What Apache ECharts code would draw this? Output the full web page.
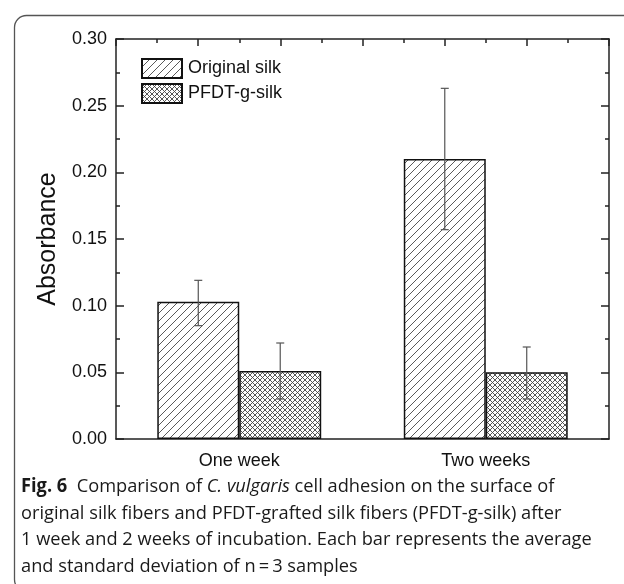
<!DOCTYPE html>
<html>
<head>
<meta charset="utf-8">
<script src="https://cdn.jsdelivr.net/npm/echarts@6/dist/echarts.min.js"></script>
<style>
html,body{margin:0;padding:0;background:#fff;}
#chart{width:624px;height:584px;}
</style>
</head>
<body>
<div id="chart"></div>
<script>
// ---- data ----
var categories = ['One week', 'Two weeks'];
var seriesNames = ['Original silk', 'PFDT-g-silk'];
var originalMean = [0.103, 0.210];
var originalLow = [0.085, 0.157];
var originalHigh = [0.119, 0.263];
var pfdtMean = [0.051, 0.050];
var pfdtLow = [0.030, 0.030];
var pfdtHigh = [0.072, 0.069];
var yTicks = [0, 0.05, 0.10, 0.15, 0.20, 0.25, 0.30];
var captionLines = [
  '{b|Fig. 6}  Comparison of {i|C. vulgaris} cell adhesion on the surface of',
  'original silk fibers and PFDT-grafted silk fibers (PFDT-g-silk) after',
  '1 week and 2 weeks of incubation. Each bar represents the average',
  'and standard deviation of n\u2009=\u20093 samples'
];

function hatchPattern() {
  var c = document.createElement('canvas');
  var s = 8;
  c.width = s; c.height = s;
  var g = c.getContext('2d');
  g.fillStyle = '#fff'; g.fillRect(0, 0, s, s);
  g.strokeStyle = '#5a5a5a'; g.lineWidth = 1;
  g.beginPath();
  g.moveTo(-1, s + 1); g.lineTo(s + 1, -1);
  g.moveTo(-1, 1); g.lineTo(1, -1);
  g.moveTo(s - 1, s + 1); g.lineTo(s + 1, s - 1);
  g.stroke();
  return c;
}
function crossPattern() {
  var c = document.createElement('canvas');
  var s = 5;
  c.width = s; c.height = s;
  var g = c.getContext('2d');
  g.fillStyle = '#fff'; g.fillRect(0, 0, s, s);
  g.strokeStyle = '#444'; g.lineWidth = 0.9;
  g.beginPath();
  g.moveTo(-1, s + 1); g.lineTo(s + 1, -1);
  g.moveTo(-1, -1); g.lineTo(s + 1, s + 1);
  g.stroke();
  return c;
}

var FONT = 'Liberation Sans, Arial, sans-serif';
var gapPct = 33.5;
var chart = echarts.init(document.getElementById('chart'));

function errRender(lowArr, highArr, sign) {
  return function (params, api) {
    var i = api.value(0);
    var band = api.size([1, 0])[0];
    var off = sign * band * (1 - gapPct / 100) / 4;
    var pLow = api.coord([i, api.value(1)]);
    var pHigh = api.coord([i, api.value(2)]);
    var x = pLow[0] + off;
    var cap = 4;
    var st = { stroke: '#555', lineWidth: 1.2 };
    return {
      type: 'group',
      children: [
        { type: 'line', shape: { x1: x, y1: pLow[1], x2: x, y2: pHigh[1] }, style: st },
        { type: 'line', shape: { x1: x - cap, y1: pLow[1], x2: x + cap, y2: pLow[1] }, style: st },
        { type: 'line', shape: { x1: x - cap, y1: pHigh[1], x2: x + cap, y2: pHigh[1] }, style: st }
      ]
    };
  };
}

var captionEls = captionLines.map(function (t, k) {
  return {
    type: 'text',
    x: 21,
    y: 487 + k * 26.5,
    scaleX: 0.96,
    style: {
      text: t,
      font: '19px "Open Sans", sans-serif',
      fill: '#1a1a1a',
      verticalAlign: 'middle',
      rich: {
        b: { fontWeight: 'bold', fontSize: 19, fontFamily: 'Open Sans', fill: '#1a1a1a' },
        i: { fontStyle: 'italic', fontSize: 19, fontFamily: 'Open Sans', fill: '#1a1a1a' }
      }
    }
  };
});

var option = {
  animation: false,
  backgroundColor: '#fff',
  grid: { left: 116, top: 39, right: 15, bottom: 145 },
  legend: {
    orient: 'vertical',
    left: 141, top: 58, padding: 0,
    itemWidth: 40, itemHeight: 19, itemGap: 4,
    icon: 'rect',
    data: seriesNames,
    textStyle: { fontFamily: FONT, fontSize: 18, color: '#111', padding: [0, 0, 0, 1] }
  },
  xAxis: [
    {
      type: 'category', data: categories,
      axisLine: { lineStyle: { color: '#222', width: 1.5 } },
      axisTick: { show: false },
      axisLabel: { fontFamily: FONT, fontSize: 18, color: '#111', margin: 13 }
    },
    {
      type: 'value', position: 'top', min: 0, max: 12, interval: 2,
      axisLine: { show: true, onZero: false, lineStyle: { color: '#222', width: 1.5 } },
      axisTick: { show: true, inside: true, length: 7, lineStyle: { color: '#222', width: 1.5 } },
      minorTick: { show: true, splitNumber: 2, length: 4, lineStyle: { color: '#222', width: 1.5 } },
      axisLabel: { show: false },
      splitLine: { show: false }
    }
  ],
  yAxis: [
    {
      type: 'value', min: 0, max: 0.3, interval: 0.05,
      name: 'Absorbance', nameLocation: 'middle', nameGap: 54,
      nameTextStyle: { fontFamily: FONT, fontSize: 25, color: '#111' },
      axisLine: { show: true, lineStyle: { color: '#222', width: 1.5 } },
      axisTick: { show: true, inside: true, length: 8, lineStyle: { color: '#222', width: 1.5 } },
      minorTick: { show: true, splitNumber: 2, length: 4, lineStyle: { color: '#222', width: 1.5 } },
      axisLabel: { fontFamily: FONT, fontSize: 18, color: '#111', margin: 9,
        formatter: function (v) { return v.toFixed(2); } },
      splitLine: { show: false }
    },
    {
      type: 'value', position: 'right', min: 0, max: 0.3, interval: 0.05,
      axisLine: { show: true, lineStyle: { color: '#222', width: 1.5 } },
      axisTick: { show: true, inside: true, length: 8, lineStyle: { color: '#222', width: 1.5 } },
      minorTick: { show: true, splitNumber: 2, length: 4, lineStyle: { color: '#222', width: 1.5 } },
      axisLabel: { show: false },
      splitLine: { show: false }
    }
  ],
  series: [
    {
      name: seriesNames[0], type: 'bar', data: originalMean,
      barGap: '0%', barCategoryGap: gapPct + '%',
      itemStyle: { color: { image: hatchPattern(), repeat: 'repeat' }, borderColor: '#111', borderWidth: 1.5 }
    },
    {
      name: seriesNames[1], type: 'bar', data: pfdtMean,
      barGap: '0%', barCategoryGap: gapPct + '%',
      itemStyle: { color: { image: crossPattern(), repeat: 'repeat' }, borderColor: '#111', borderWidth: 1.5 }
    },
    {
      type: 'custom', name: 'err1', renderItem: errRender(originalLow, originalHigh, -1),
      data: categories.map(function (c, i) { return [i, originalLow[i], originalHigh[i]]; }),
      encode: { x: 0, y: [1, 2] }, z: 10, silent: true
    },
    {
      type: 'custom', name: 'err2', renderItem: errRender(pfdtLow, pfdtHigh, 1),
      data: categories.map(function (c, i) { return [i, pfdtLow[i], pfdtHigh[i]]; }),
      encode: { x: 0, y: [1, 2] }, z: 10, silent: true
    }
  ],
  graphic: [
    {
      type: 'rect', left: 12, top: 13, z: -1,
      shape: { width: 640, height: 576, r: 12 },
      style: { fill: 'none', stroke: '#555', lineWidth: 1.3 }
    }
  ].concat(captionEls)
};
chart.setOption(option);
</script>
</body>
</html>
